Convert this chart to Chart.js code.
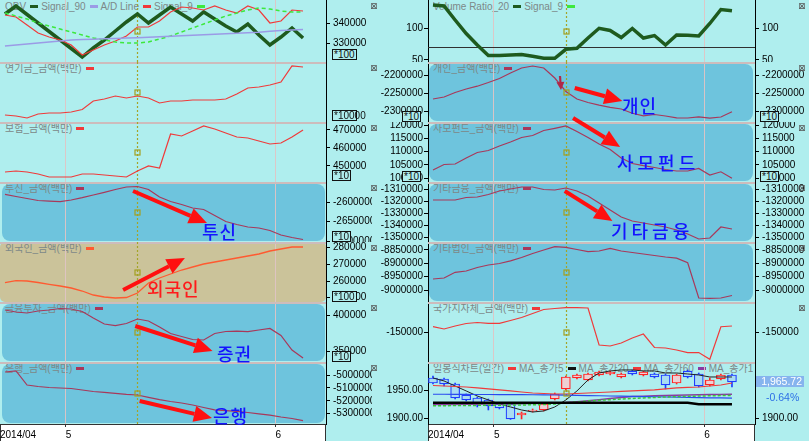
<!DOCTYPE html>
<html><head><meta charset="utf-8">
<script src="https://cdn.jsdelivr.net/npm/chart.js@4.4.1/dist/chart.umd.min.js"></script>
<style>
html,body{margin:0;padding:0}
body{width:809px;height:441px;background:#afeeee;position:relative;overflow:hidden;font-family:"Liberation Sans",Arial,"Noto Sans CJK KR",sans-serif}
.bg{position:absolute;z-index:0}
.ttl{position:absolute;z-index:1;font-size:10px;line-height:12px;color:#7d8888;white-space:nowrap;overflow:hidden}
.ttl i{display:inline-block;width:8px;height:3px;margin:0 3px 0 4px;vertical-align:2px}
canvas.pc{position:absolute;z-index:2}
#ov{position:absolute;left:0;top:0;z-index:3;pointer-events:none}
.ann{position:absolute;z-index:4;font-family:"Noto Sans CJK KR";font-size:18px;line-height:18px;font-weight:500;color:#1414ff;white-space:nowrap}
.mul{position:absolute;z-index:4;border:1px solid #111;background:#afeeee;font-size:10px;line-height:9px;height:9px;padding:0 1px;color:#111;white-space:nowrap}
.xb{position:absolute;z-index:4;font-family:"DejaVu Sans";font-size:9px;line-height:9px;color:#555}
#px{position:absolute;z-index:4;left:756px;width:46px;height:11px;line-height:11px;background:#86b4ee;color:#fff;font-size:10.5px;text-align:right;padding-right:2px}
#pc{position:absolute;z-index:4;left:766px;color:#2c6fe6;font-size:10.5px;line-height:11px}
</style></head><body>
<canvas id="ov"></canvas>
<script>
// ---------------- DATA ----------------
const DATES = ['2014-04-23','2014-04-24','2014-04-25','2014-04-28','2014-04-29','2014-04-30',
  '2014-05-02','2014-05-07','2014-05-08','2014-05-09','2014-05-12','2014-05-13','2014-05-14','2014-05-15','2014-05-16',
  '2014-05-19','2014-05-20','2014-05-21','2014-05-22','2014-05-23','2014-05-26','2014-05-27','2014-05-28','2014-05-29','2014-05-30',
  '2014-06-02','2014-06-03','2014-06-05'];
const CROSS_INDEX = 12;

// left column
const OBV = [344560,348480,344310,340150,335980,331820,327650,323490,327900,331820,336230,340640,344560,340150,344070,347990,344560,341130,345540,342110,338680,335740,339660,334270,329370,333290,337700,332800];
const SIGNAL_90 = [328880,329370,329860,330350,330840,331330,331820,332010,332210,332400,332600,332800,332940,333140,333390,333630,333880,334120,334370,334610,334860,335100,335350,335640,336080,336420,336720,337010];
const AD_LINE = [344070,343090,339170,335250,333290,331820,329370,324470,326920,329370,331330,333780,338190,338190,341130,345540,347990,347500,346520,348480,346520,345050,348480,346520,340150,341130,346520,346030];
const SIGNAL_9 = [345050,343580,342110,340150,338680,337210,335740,334270,332800,331820,330840,330350,330350,330840,332310,333780,335740,337700,339660,341620,343580,345050,346520,347500,347010,346030,345540,345540];
const PENSION = [2301500,2300500,2298500,2302500,2303500,2303500,2304500,2307000,2315500,2317500,2320500,2318500,2320500,2318500,2313500,2315500,2315500,2316500,2316500,2316500,2317500,2322500,2328500,2329500,2331500,2334500,2350500,2349500];
const INSURANCE = [446670,447220,446670,445550,443890,443890,443890,445550,445550,445000,444440,443890,447220,450000,448890,467780,466670,469440,472220,470560,468330,466110,465560,463890,462220,462780,466110,470000];
const INV_TRUST = [-2579380,-2585050,-2590210,-2595360,-2597170,-2598450,-2594070,-2588150,-2581190,-2574230,-2567010,-2560570,-2559280,-2567010,-2586340,-2597940,-2605670,-2614690,-2618550,-2634020,-2649480,-2657210,-2663650,-2666230,-2672670,-2684270,-2690710,-2695860];
const FOREIGN = [259000,260200,260020,259120,258040,257020,255820,254020,251620,250420,249820,250120,252820,258820,261820,264220,266620,268420,270220,271420,272620,273820,275020,276220,278020,279220,280420,280420];
const FIN_INV = [408070,405240,403820,406660,408070,410200,409490,405950,396740,388250,385840,388960,395330,392500,384000,374800,370550,366300,365590,374800,377630,378050,377340,379750,381880,371960,351430,340100];
const BANK = [-4976740,-4968990,-5077520,-5089150,-5096900,-5100780,-5104650,-5116280,-5127910,-5134110,-5141860,-5149610,-5155040,-5172870,-5191470,-5205430,-5217060,-5232560,-5251940,-5269770,-5276750,-5282170,-5290700,-5300780,-5311630,-5325580,-5337210,-5354270];

// right column
const VOL_RATIO = [136.8,135.2,113.1,91.8,73.6,57.1,57.1,57.9,58.7,55.8,52.7,52.7,66.9,68.4,84.7,100.0,96.5,85.5,99.7,84.7,88.6,73.6,89.4,89.0,87.8,107.6,129.7,127.8];
const VR_BASELINE = 70;
const INDIVIDUAL = [-2265450,-2259830,-2247190,-2237360,-2229490,-2219100,-2207870,-2192420,-2178370,-2172750,-2178370,-2206460,-2244380,-2265450,-2275280,-2282870,-2288760,-2293540,-2305620,-2312640,-2308990,-2313200,-2318260,-2318820,-2315450,-2319380,-2316010,-2301120];
const PRIV_FUND = [103070,105150,105340,107610,109700,110450,112160,113670,115380,116140,118030,118860,119740,117650,115380,112920,110830,107610,105530,104700,104010,103260,102690,102690,103640,101170,102390,99920];
const OTHER_FIN = [-1319100,-1319100,-1319100,-1317030,-1316620,-1314550,-1311650,-1310000,-1308350,-1308350,-1310410,-1310830,-1309170,-1311650,-1315790,-1321580,-1327370,-1333160,-1336460,-1338120,-1339770,-1341430,-1343910,-1347220,-1351350,-1350520,-1341430,-1343080];
const OTHER_CORP = [-8958750,-8955000,-8933630,-8928750,-8915630,-8906250,-8900630,-8890500,-8878130,-8863130,-8850000,-8837630,-8839880,-8848130,-8856380,-8853750,-8843630,-8853750,-8859380,-8865000,-8870630,-8876250,-8880750,-8897630,-9030000,-9031130,-9030000,-9020630];
const GOVT = [-144000,-146300,-143300,-140800,-139800,-140600,-140600,-137800,-134800,-130800,-126800,-125800,-125000,-125000,-125300,-162300,-163300,-160300,-155300,-151300,-164800,-165300,-167300,-170000,-169800,-176600,-144000,-143300];

// daily candles + moving averages
const OPEN  = [1973.0,1971.2,1962.1,1942.0,1936.8,1933.2,1925.9,1925.9,1906.0,1913.3,1915.1,1935.0,1953.1,1973.0,1969.4,1978.4,1980.2,1974.8,1985.6,1978.4,1980.2,1978.4,1963.9,1985.6,1980.2,1960.3,1971.2,1978.4];
const HIGH  = [1976.6,1973.0,1963.9,1944.0,1938.6,1935.0,1927.7,1927.7,1911.4,1916.9,1927.7,1945.8,1976.6,1980.2,1982.0,1985.6,1985.6,1982.0,1987.4,1985.6,1982.0,1980.2,1980.2,1987.4,1982.0,1973.0,1980.2,1980.2];
const LOW   = [1962.1,1958.5,1935.0,1931.4,1920.5,1915.1,1916.9,1898.0,1898.8,1911.5,1913.3,1933.2,1951.3,1971.2,1967.6,1976.6,1978.4,1973.0,1978.4,1976.6,1973.0,1953.1,1962.1,1973.0,1956.7,1958.5,1969.4,1956.7];
const CLOSE = [1963.9,1962.1,1936.8,1933.2,1925.9,1922.3,1918.7,1898.8,1909.6,1915.1,1925.9,1944.0,1974.8,1978.4,1980.2,1983.8,1983.8,1980.2,1980.2,1983.8,1974.8,1960.3,1978.4,1974.8,1958.5,1969.4,1978.38,1965.72];
const MA5   = [1973.0,1967.6,1958.5,1949.5,1940.4,1933.2,1925.9,1920.5,1915.1,1911.4,1913.3,1920.5,1933.2,1949.5,1969.4,1982.0,1985.7,1987.5,1987.5,1985.7,1985.7,1982.0,1982.0,1980.2,1978.4,1974.8,1974.8,1974.8];
const MA20  = [1959.4,1958.5,1957.6,1956.7,1954.9,1953.1,1951.3,1949.5,1947.6,1945.8,1944.9,1944.0,1944.0,1944.9,1945.8,1946.7,1947.6,1948.6,1949.5,1950.4,1951.3,1953.1,1954.9,1955.8,1956.7,1958.5,1960.3,1963.9];
const MA60  = [1924.8,1925.0,1925.2,1925.4,1925.6,1925.7,1925.9,1926.1,1926.3,1926.7,1927.0,1927.6,1928.5,1929.9,1931.7,1933.5,1935.7,1937.7,1939.3,1940.0,1940.6,1941.1,1941.7,1942.2,1942.6,1942.9,1943.3,1943.7];
const MA120 = [1943.5,1943.5,1943.3,1943.3,1943.1,1943.1,1942.9,1942.9,1942.8,1942.6,1942.4,1942.2,1941.9,1941.5,1941.1,1940.8,1940.4,1940.0,1939.7,1939.3,1939.0,1938.6,1938.2,1937.9,1937.5,1937.1,1936.8,1936.4];
const MA_G  = [1922.7,1922.9,1923.0,1923.2,1923.4,1923.6,1923.8,1923.9,1924.1,1924.5,1925.0,1925.9,1927.7,1929.5,1931.4,1932.6,1933.7,1935.0,1935.9,1936.8,1937.7,1938.6,1939.1,1939.7,1940.2,1940.8,1941.1,1941.5];
const MA_K  = [1928.3,1928.3,1928.3,1928.3,1928.3,1928.3,1928.3,1928.3,1928.3,1928.3,1928.3,1928.3,1928.3,1928.3,1928.3,1928.3,1928.3,1928.3,1928.3,1928.3,1928.3,1928.3,1928.3,1928.3,1925.6,1925.6,1925.6,1925.6];

// tick labels
const OBV_TICKS = [330000,340000];
const PENSION_TICKS = [];
const INSURANCE_TICKS = [450000,460000,470000];
const INV_TRUST_TICKS = [-2700000,-2650000,-2600000];
const FOREIGN_TICKS = [250000,260000,270000,280000];
const FIN_INV_TICKS = [350000,400000];
const BANK_TICKS = [-5300000,-5200000,-5100000,-5000000];
const VOL_TICKS = [50,100];
const INDIVIDUAL_TICKS = [-2300000,-2250000,-2200000];
const PRIV_FUND_TICKS = [100000,105000,110000,115000,120000];
const OTHER_FIN_TICKS = [-1350000,-1340000,-1330000,-1320000,-1310000];
const OTHER_CORP_TICKS = [-9000000,-8950000,-8900000,-8850000];
const GOVT_TICKS = [-150000];
const PRICE_TICKS_L = [1900,1950];
const PRICE_TICKS_R = [1900];

// ---------------- LAYOUT / STYLE ----------------
const PANEL_Y = [0,62,122,182,242,302,362,424];
const XAXIS_H = 17;
const XMIN = -0.45, XMAX = 29.08;
const GRIDC = 'rgba(222,196,196,0.95)';
const BLUE = '#6ec4dd', TAN = '#cbc39a';
const C_OBV='#1e5a1e', C_LAV='#9b9be6', C_RED='#f03a3a', C_GRN='#3de83d', C_PR='#a8385a', C_OR='#ff5a30';

const monthTicks = [];
DATES.forEach((d,i)=>{ if(i>0 && d.slice(5,7)!==DATES[i-1].slice(5,7)) monthTicks.push({v:i-0.5, l:String(+d.slice(5,7))}); });
const firstLabel = DATES[0].slice(0,7).replace('-','/');

function ln(d,c,w,dash){ return {type:'line',data:d.map((v,i)=>({x:i,y:v})),borderColor:c,borderWidth:w,borderDash:dash||[],pointRadius:0,fill:false,tension:0,order:1}; }

const up = OPEN.map((o,i)=>CLOSE[i]>=o);
const candleCol = up.map(u=>u?'#ff2424':'#1f3cff');
const candleFill = up.map(u=>u?'#eed0d4':'#a9dcf2');

const LEFT = [
 {legend:[['OBV',C_OBV],['Signal_90',C_LAV],['A/D Line',C_RED],['Signal_9',C_GRN]],min:321040,max:351420,ticks:OBV_TICKS,
  sets:[ln(SIGNAL_90,C_LAV,1.5),ln(SIGNAL_9,C_GRN,1.5,[4,3]),ln(AD_LINE,C_RED,1.2),ln(OBV,C_OBV,3.5)]},
 {legend:[['연기금_금액(백만)',C_RED]],min:2294500,max:2354500,ticks:PENSION_TICKS,sets:[ln(PENSION,C_RED,1.2)]},
 {legend:[['보험_금액(백만)',C_RED]],min:441110,max:474440,ticks:INSURANCE_TICKS,sets:[ln(INSURANCE,C_RED,1.2)]},
 {legend:[['투신_금액(백만)',C_PR]],min:-2702310,max:-2547690,ticks:INV_TRUST_TICKS,bg:BLUE,sets:[ln(INV_TRUST,C_PR,1.2)]},
 {legend:[['외국인_금액(백만)',C_OR]],min:247420,max:283420,ticks:FOREIGN_TICKS,bg:TAN,sets:[ln(FOREIGN,C_OR,1.3)]},
 {legend:[['금융투자_금액(백만)',C_PR]],min:334440,max:419400,ticks:FIN_INV_TICKS,bg:BLUE,sets:[ln(FIN_INV,C_PR,1.2)]},
 {legend:[['은행_금액(백만)',C_PR]],min:-5379850,max:-4899220,ticks:BANK_TICKS,bg:BLUE,sets:[ln(BANK,C_PR,1.2)]}
];
const RIGHT = [
 {legend:[['Volume Ratio_20',C_OBV],['Signal_9',C_GRN]],min:46.82,max:144.66,ticks:VOL_TICKS,baseline:VR_BASELINE,sets:[ln(VOL_RATIO,C_OBV,3.5)]},
 {legend:[['개인_금액(백만)',C_PR]],min:-2330060,max:-2161520,ticks:INDIVIDUAL_TICKS,bg:BLUE,sets:[ln(INDIVIDUAL,C_PR,1.2)]},
 {legend:[['사모펀드_금액(백만)',C_PR]],min:98520,max:121250,ticks:PRIV_FUND_TICKS,bg:BLUE,sets:[ln(PRIV_FUND,C_PR,1.2)]},
 {legend:[['기타금융_금액(백만)',C_PR]],min:-1353830,max:-1304210,ticks:OTHER_FIN_TICKS,bg:BLUE,sets:[ln(OTHER_FIN,C_PR,1.2)]},
 {legend:[['기타법인_금액(백만)',C_PR]],min:-9045000,max:-8820000,ticks:OTHER_CORP_TICKS,bg:BLUE,sets:[ln(OTHER_CORP,C_PR,1.2)]},
 {legend:[['국가지자체_금액(백만)',C_RED]],min:-179300,max:-119300,ticks:GOVT_TICKS,sets:[ln(GOVT,C_RED,1.2)]},
 {legend:[['일봉식차트(일간)',C_RED],['MA_종가5','#111'],['MA_종가20',C_RED],['MA_종가60','#8a3aa0'],['MA_종가120','#2a4aee']],
  min:1889.7,max:2001.9,ticks:PRICE_TICKS_L,ticksR:PRICE_TICKS_R,fmt:v=>v.toFixed(2),
  sets:[
   {type:'bar',data:HIGH.map((h,i)=>({x:i,y:[LOW[i],h]})),backgroundColor:candleCol,borderWidth:0,barThickness:1,grouped:false,order:10},
   {type:'bar',data:OPEN.map((o,i)=>({x:i,y:[o,CLOSE[i]]})),backgroundColor:candleFill,borderColor:candleCol,borderWidth:1.2,borderSkipped:false,barThickness:9,grouped:false,order:9},
   ln(MA_K,'#000',2.5),ln(MA_G,'#38c838',1.5,[3,2]),ln(MA120,'#2a4aee',1.2),ln(MA60,'#8a3aa0',1.5),ln(MA20,C_RED,1.2),ln(MA5,'#222',1)
  ]}
];

// ---------------- PLUGIN ----------------
const deco = {
  id:'deco',
  beforeDraw(chart,args,o){
    if(!o.xbox) return;
    const {ctx,chartArea:a}=chart;
    ctx.save();
    ctx.fillStyle='#fff'; ctx.fillRect(a.left,a.bottom,a.right-a.left,chart.height-a.bottom);
    ctx.strokeStyle='#333'; ctx.lineWidth=1;
    ctx.strokeRect(a.left+0.5,a.bottom+0.5,a.right-a.left-1,chart.height-a.bottom);
    ctx.restore();
  },
  beforeDatasetsDraw(chart,args,o){
    const {ctx,chartArea:a,scales}=chart;
    ctx.save();
    if(o.sep){ ctx.strokeStyle='#cdbcbc'; ctx.lineWidth=2; ctx.beginPath(); ctx.moveTo(a.left,a.top+1); ctx.lineTo(a.right,a.top+1); ctx.stroke(); }
    if(o.baseline!=null){ const y=Math.round(scales.y.getPixelForValue(o.baseline))+0.5; ctx.strokeStyle='#303030'; ctx.lineWidth=1.2; ctx.beginPath(); ctx.moveTo(a.left,y); ctx.lineTo(a.right,y); ctx.stroke(); }
    const cx=Math.round(scales.x.getPixelForValue(CROSS_INDEX))+0.5;
    ctx.strokeStyle='#a4a428'; ctx.lineWidth=1.2; ctx.setLineDash([2,2]);
    ctx.beginPath(); ctx.moveTo(cx,a.top); ctx.lineTo(cx,a.bottom); ctx.stroke();
    ctx.restore();
  },
  afterDatasetsDraw(chart,args,o){
    const {ctx,chartArea:a,scales}=chart;
    const cx=Math.round(scales.x.getPixelForValue(CROSS_INDEX))+0.5;
    const cy=Math.round((a.top+a.bottom)/2)+0.5;
    ctx.save(); ctx.strokeStyle='#a4a020'; ctx.lineWidth=1.2; ctx.strokeRect(cx-2.5,cy-2.5,5,5); ctx.restore();
  }
};
Chart.register(deco);
Chart.defaults.font.family='Liberation Sans';

function yAxis(pos,list,W,spec){
  const fmt=spec.fmt||(v=>String(v));
  return {type:'linear',position:pos,min:spec.min,max:spec.max,bounds:'data',beginAtZero:false,
    afterBuildTicks:s=>{s.ticks=list.map(v=>({value:v}));},
    afterFit:s=>{s.width=W;s.paddingTop=0;s.paddingBottom=0;},
    grid:{drawOnChartArea:false,drawTicks:true,tickLength:4,color:'#000'},
    border:{display:true,color:'#000',width:1},
    ticks:{display:list.length>0,autoSkip:false,font:{size:10},color:'#000',padding:pos==='left'?1:3,callback:v=>fmt(v)}};
}
function xAxis(last){
  const list = last ? [{v:XMIN,l:firstLabel}].concat(monthTicks) : monthTicks;
  return {type:'linear',min:XMIN,max:XMAX,offset:false,bounds:'data',
    afterBuildTicks:s=>{s.ticks=list.map(t=>({value:t.v}));},
    afterFit:s=>{s.height=last?XAXIS_H:0;s.paddingLeft=0;s.paddingRight=0;},
    grid:{offset:false,drawTicks:last,tickLength:3,
      color:c=>(last&&c.index===0)?'rgba(0,0,0,0)':GRIDC,
      tickColor:c=>c.index===0?'rgba(0,0,0,0)':'#333'},
    border:{display:last,color:'#333'},
    ticks:{display:last,autoSkip:false,maxRotation:0,align:'start',padding:2,font:{size:10},color:'#000',
      callback:(v,i)=>list[i]?list[i].l:''}};
}

const charts={L:[],R:[]};
function makePanel(spec,col,idx){
  const top=PANEL_Y[idx], h=PANEL_Y[idx+1]-top, last=idx===PANEL_Y.length-2;
  const left=col==='L'?0:372, width=col==='L'?372:437, H=h+(last?XAXIS_H:0);
  if(spec.bg){
    const b=document.createElement('div'); b.className='bg';
    const tan=spec.bg===TAN;
    const bl=col==='L'?(tan?0:2):429, bw=col==='L'?(tan?326:323):324;
    Object.assign(b.style,{left:bl+'px',top:(top+(tan?0:2))+'px',width:bw+'px',height:(h-(tan?0:3))+'px',background:spec.bg,borderRadius:(tan?5:8)+'px'});
    document.body.appendChild(b);
  }
  const t=document.createElement('div'); t.className='ttl';
  Object.assign(t.style,{left:(col==='L'?5:433)+'px',top:(top+1)+'px',maxWidth:'320px'});
  spec.legend.forEach(([s,c])=>{t.appendChild(document.createTextNode(s));const i=document.createElement('i');i.style.background=c;t.appendChild(i);});
  document.body.appendChild(t);
  const cv=document.createElement('canvas'); cv.className='pc'; cv.width=width; cv.height=H;
  cv.style.left=left+'px'; cv.style.top=top+'px';
  document.body.appendChild(cv);
  const scales={x:xAxis(last)};
  if(col==='L'){ scales.y=yAxis('right',spec.ticks,46,spec); }
  else { scales.yL=yAxis('left',spec.ticks,56,spec); scales.y=yAxis('right',spec.ticksR||spec.ticks,54,spec); }
  const ch=new Chart(cv,{type:'line',data:{datasets:spec.sets},
    options:{responsive:false,animation:false,events:[],layout:{padding:0},
      plugins:{legend:{display:false},tooltip:{enabled:false},deco:{sep:idx>0,xbox:last,baseline:spec.baseline}},
      scales}});
  ch._left=left; ch._top=top;
  charts[col].push(ch);
}
LEFT.forEach((s,i)=>makePanel(s,'L',i));
RIGHT.forEach((s,i)=>makePanel(s,'R',i));

// ---------------- ANNOTATIONS ----------------
const ARROWS = [
 {c:'L',p:3,a:[11.6,-2570880],b:[18.3,-2653340]},
 {c:'L',p:4,a:[10.7,254620],b:[16.3,273820]},
 {c:'L',p:5,a:[11.8,385420],b:[18.8,350015]},
 {c:'L',p:6,a:[12.2,-5201550],b:[18.75,-5333340]},
 {c:'R',p:1,a:[12.8,-2234550],b:[17.1,-2271070]},
 {c:'R',p:2,a:[12.65,122765],b:[16.9,111780]},
 {c:'R',p:3,a:[11.9,-1311650],b:[16.2,-1336460]},
 {c:'R',p:1,a:[11.47,-2200840],b:[11.56,-2240170],small:true}
];
const ov=document.getElementById('ov'); const dpr=window.devicePixelRatio||1;
ov.width=809*dpr; ov.height=441*dpr; ov.style.width='809px'; ov.style.height='441px';
const octx=ov.getContext('2d'); octx.scale(dpr,dpr);
function arrow(x1,y1,x2,y2,col,w,hl,hw){
  const g=Math.atan2(y2-y1,x2-x1), bx=x2-hl*Math.cos(g), by=y2-hl*Math.sin(g);
  octx.strokeStyle=col; octx.lineWidth=w; octx.beginPath(); octx.moveTo(x1,y1); octx.lineTo(bx,by); octx.stroke();
  octx.fillStyle=col; octx.beginPath(); octx.moveTo(x2,y2);
  octx.lineTo(bx+hw*Math.sin(g),by-hw*Math.cos(g)); octx.lineTo(bx-hw*Math.sin(g),by+hw*Math.cos(g)); octx.closePath(); octx.fill();
}
ARROWS.forEach(r=>{
  const ch=charts[r.c][r.p];
  const px=v=>ch._left+ch.scales.x.getPixelForValue(v), py=v=>ch._top+ch.scales.y.getPixelForValue(v);
  if(r.small) arrow(px(r.a[0]),py(r.a[1]),px(r.b[0]),py(r.b[1]),'#b02848',2.2,8,4);
  else arrow(px(r.a[0]),py(r.a[1]),px(r.b[0]),py(r.b[1]),'#ff1010',4,18,8);
});
const LABELS = [
 ['투신',202,222,'#1414ff',1],['외국인',147,279,'#ff1a1a',1],['증권',217,344,'#1414ff',1],['은행',213,406,'#1414ff',1],
 ['개인',622,96,'#1414ff',1],['사모펀드',617,153,'#1414ff',4],['기타금융',611,221,'#1414ff',4]
];
LABELS.forEach(([s,x,y,c,ls])=>{const d=document.createElement('div');d.className='ann';d.textContent=s;
  Object.assign(d.style,{left:x+'px',top:y+'px',color:c,letterSpacing:ls+'px'});document.body.appendChild(d);});

const MULS = [[332,49,'*100'],[332,110,'*10000',21],[332,170,'*10'],[332,231,'*10'],[332,291,'*100'],[332,351,'*10'],
  [402,111,'*10'],[402,171,'*10'],[760,111,'*10'],[760,171,'*10']];
MULS.forEach(([x,y,s,w])=>{const d=document.createElement('div');d.className='mul';d.textContent=s;
  Object.assign(d.style,{left:x+'px',top:y+'px'});if(w){d.style.width=w+'px';d.style.overflow='visible';}document.body.appendChild(d);});
PANEL_Y.slice(0,7).forEach((y,i)=>{
  const a=document.createElement('div');a.className='xb';a.textContent='⊠';a.style.left='370px';a.style.top=(y+2)+'px';document.body.appendChild(a);
  if(i<6){const b=document.createElement('div');b.className='xb';b.textContent='⊠';b.style.left='798px';b.style.top=(y+2)+'px';document.body.appendChild(b);}
});

const pch=charts.R[6];
const lastC=CLOSE[CLOSE.length-1], prevC=CLOSE[CLOSE.length-2];
const yp=pch._top+pch.scales.y.getPixelForValue(lastC);
const pxl=document.createElement('div');pxl.id='px';pxl.textContent=lastC.toLocaleString('en-US',{minimumFractionDigits:2,maximumFractionDigits:2});
pxl.style.top=(yp-5.5)+'px';document.body.appendChild(pxl);
const pcl=document.createElement('div');pcl.id='pc';pcl.textContent=((lastC/prevC-1)*100).toFixed(2)+'%';
pcl.style.top=(yp+10)+'px';document.body.appendChild(pcl);
</script></body></html>
